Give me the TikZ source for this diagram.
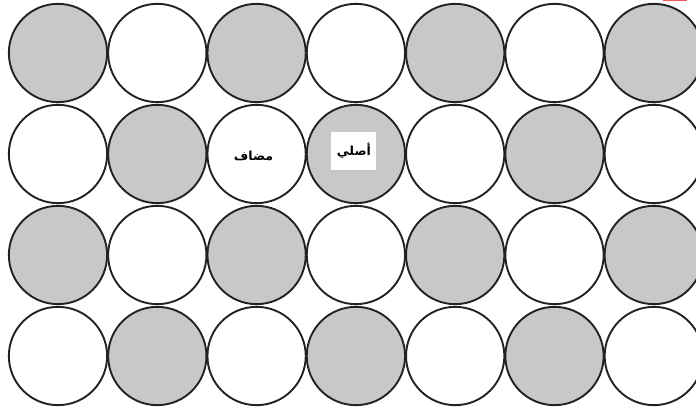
\documentclass[tikz,border=0pt]{standalone}
\usepackage{fontspec}
\newfontfamily\arabicfont[Script=Arabic]{DejaVu Sans}
\TeXXeTstate=1
\usetikzlibrary{positioning}

\definecolor{cellfill}{RGB}{200,200,202}
\definecolor{cellline}{RGB}{34,34,34}
\definecolor{cornerred}{RGB}{240,90,90}

\begin{document}
\begin{tikzpicture}[
    x=1pt, y=-1pt,
    cell/.style={circle, draw=cellline, line width=1.9pt, minimum size=98.3pt, inner sep=0pt},
    arlabel/.style={font=\arabicfont\bfseries\fontsize{12.5}{14}\selectfont, inner sep=1pt},
    arbox/.style={arlabel, fill=white, minimum width=45pt, minimum height=38pt}
  ]
  \useasboundingbox (0,0) rectangle (696,409);

  % checkerboard of circles, 4 rows x 7 columns
  \foreach \r in {0,...,3} {
    \foreach \c in {0,...,6} {
      \pgfmathtruncatemacro{\odd}{mod(\r+\c,2)}
      \ifnum\odd=0 \def\cellcol{cellfill}\else\def\cellcol{white}\fi
      \node[cell, fill=\cellcol] (c\r\c) at ({58+99.3*\c},{53+101*\r}) {};
    }
  }

  % labels in the second row
  \node[arlabel] (added) at ([xshift=-3pt, yshift=-2pt] c12.center) {\beginR مضاف\endR};
  \node[arbox] (orig) at ([xshift=-2pt, yshift=3pt] c13.center) {\beginR أصلي\endR};

  % red strip at the top edge
  \fill[cornerred] (663,0) rectangle (687,1.4);
\end{tikzpicture}
\end{document}
